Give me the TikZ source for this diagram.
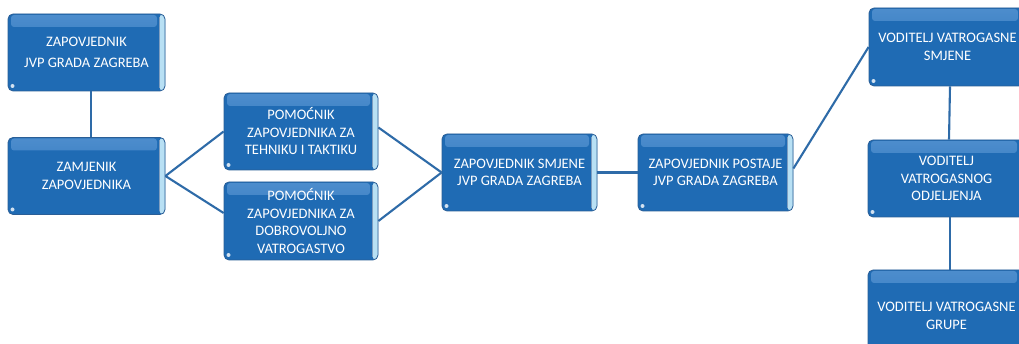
\documentclass[tikz,border=0pt]{standalone}
\usepackage{fontspec}
\setmainfont{Carlito}
\usetikzlibrary{calc}
\definecolor{boxblue}{HTML}{1F6BB4}
\definecolor{boxedge}{HTML}{2A5E96}
\definecolor{hlblue}{HTML}{4D8DCD}
\definecolor{stripcol}{HTML}{B8E0F4}
\definecolor{linecol}{HTML}{2E6BA8}
\tikzset{
  orgbox/.style={draw=boxedge, line width=0.8pt, fill=boxblue, rounded corners=5pt,
    text=white, align=center, inner sep=2pt,
    font=\fontsize{14.5}{17.5}\selectfont,
    path picture={
      \fill[top color=hlblue, bottom color=boxblue, rounded corners=3pt]
        ([xshift=3pt,yshift=-1pt]path picture bounding box.north west)
        rectangle ([xshift=-8pt,yshift=-13pt]path picture bounding box.north east);
      \fill[stripcol]
        ([xshift=-6pt]path picture bounding box.north east)
        rectangle (path picture bounding box.south east);
      \draw[boxedge!60, line width=0.5pt]
        ([xshift=-6pt,yshift=-3pt]path picture bounding box.north east)
        -- ([xshift=-6pt,yshift=3pt]path picture bounding box.south east);
      \fill[white, opacity=0.8]
        ([xshift=4.5pt,yshift=5pt]path picture bounding box.south west) circle (2pt);
    }},
  conn/.style={draw=linecol, line width=2.1pt}
}
\begin{document}
\begin{tikzpicture}[x=1pt,y=-1pt]
\clip (0,0) rectangle (1019,344);
\useasboundingbox (0,0) rectangle (1019,344);
\fill[white] (0,0) rectangle (1019,344);

\node[orgbox, minimum width=157pt, minimum height=77pt] (n1) at (86.5,52.5)
  {ZAPOVJEDNIK\\[3pt]JVP GRADA ZAGREBA};
\node[orgbox, minimum width=157pt, minimum height=77pt] (n2) at (86.5,176)
  {ZAMJENIK\\ZAPOVJEDNIKA};
\node[orgbox, minimum width=154pt, minimum height=77pt] (n3) at (301,131.5)
  {POMOĆNIK\\ZAPOVJEDNIKA ZA\\TEHNIKU I TAKTIKU};
\node[orgbox, minimum width=154pt, minimum height=78pt] (n4) at (301,221)
  {POMOĆNIK\\ZAPOVJEDNIKA ZA\\DOBROVOLJNO\\VATROGASTVO};
\node[orgbox, minimum width=155pt, minimum height=77pt] (n5) at (519.5,172.5)
  {ZAPOVJEDNIK SMJENE\\JVP GRADA ZAGREBA};
\node[orgbox, minimum width=155pt, minimum height=77pt] (n6) at (715.5,172.5)
  {ZAPOVJEDNIK POSTAJE\\JVP GRADA ZAGREBA};
\node[orgbox, minimum width=157pt, minimum height=78pt] (n7) at (947.5,47)
  {VODITELJ VATROGASNE\\SMJENE};
\node[orgbox, minimum width=157pt, minimum height=77pt] (n8) at (946.5,178.5)
  {VODITELJ\\VATROGASNOG\\ODJELJENJA};
\node[orgbox, minimum width=157pt, minimum height=92pt] (n9) at (946.5,316)
  {VODITELJ VATROGASNE\\GRUPE};

\draw[conn] ([xshift=4.5pt]n1.south) -- ([xshift=4.5pt]n2.north);
\draw[conn] (n2.east) -- (n3.west);
\draw[conn] (n2.east) -- ([yshift=8pt]n4.west);
\draw[conn] ([yshift=4pt]n3.east) -- (n5.west);
\draw[conn] (n4.east) -- (n5.west);
\draw[conn] (n5.east) -- (n6.west);
\draw[conn] ([yshift=4pt]n6.east) -- (n7.west);
\draw[conn] ([xshift=2.5pt]n7.south) -- ([xshift=2.5pt]n8.north);
\draw[conn] ([xshift=3.5pt]n8.south) -- ([xshift=3.5pt]n9.north);
\end{tikzpicture}
\end{document}
